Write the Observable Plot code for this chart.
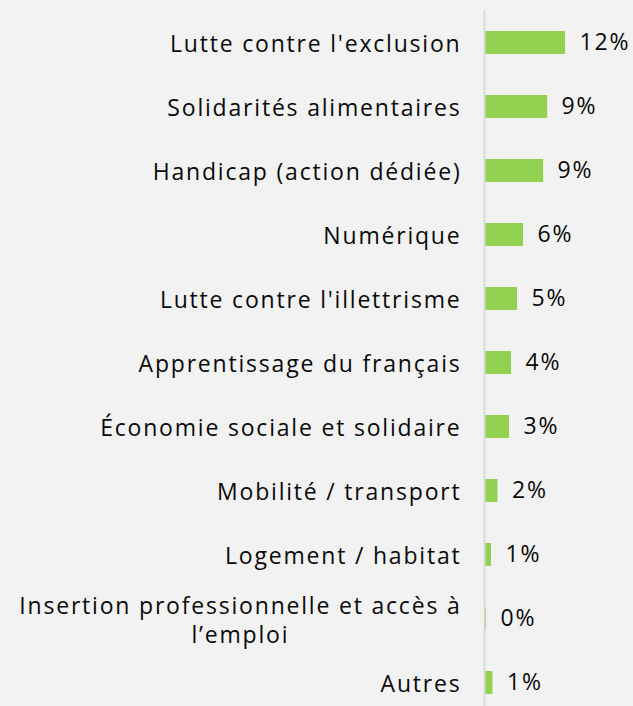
<!DOCTYPE html>
<html><head><meta charset="utf-8">
<script src="https://cdn.jsdelivr.net/npm/d3@7"></script>
<script src="https://cdn.jsdelivr.net/npm/@observablehq/plot@0.6"></script>
<style>html,body{margin:0;padding:0;background:#f2f2f2;overflow:hidden}</style>
</head><body><div id="chart"></div>
<script>
const categories = [
  "Lutte contre l'exclusion",
  "Solidarités alimentaires",
  "Handicap (action dédiée)",
  "Numérique",
  "Lutte contre l'illettrisme",
  "Apprentissage du français",
  "Économie sociale et solidaire",
  "Mobilité / transport",
  "Logement / habitat",
  "Insertion professionnelle et accès à\nl’emploi",
  "Autres"
];
const values = [11.85, 9.19, 8.6, 5.63, 4.74, 3.85, 3.56, 1.85, 0.89, 0.15, 1.1];
const valueLabels = ["12%", "9%", "9%", "6%", "5%", "4%", "3%", "2%", "1%", "0%", "1%"];

const data = categories.map((c, i) => ({category: c, value: values[i], label: valueLabels[i]}));

const chart = Plot.plot({
  width: 633, height: 715,
  marginLeft: 485, marginRight: 0, marginTop: 11, marginBottom: 0,
  style: {background: "#f2f2f2", fontFamily: "Open Sans", fontSize: "23px", color: "#0a0a0a", letterSpacing: "1.8px"},
  x: {domain: [0, 21.9], axis: null},
  y: {domain: categories, axis: null, paddingInner: 0.64, paddingOuter: 0.32},
  marks: [
    Plot.barX(data, {x: "value", y: "category", fill: "#92D050"}),
    Plot.ruleX([0], {stroke: "#d9d9d9", strokeWidth: 2, dx: -1}),
    Plot.text(data, {x: "value", y: "category", text: "label", textAnchor: "start", dx: 14, fill: "#0a0a0a", letterSpacing: "1px"}),
    Plot.text(data, {x: 0, y: "category", text: "category", textAnchor: "end", dx: -24, fill: "#0a0a0a", lineHeight: 1.26})
  ]
});
document.getElementById("chart").appendChild(chart);
// center the second line of multi-line labels under the first
chart.querySelectorAll("text").forEach(t => {
  const spans = t.querySelectorAll("tspan");
  if (spans.length === 2) {
    const w1 = spans[0].getComputedTextLength();
    const w2 = spans[1].getComputedTextLength();
    spans[1].setAttribute("x", -(w1 - w2) / 2);
  }
});
</script>
</body></html>
